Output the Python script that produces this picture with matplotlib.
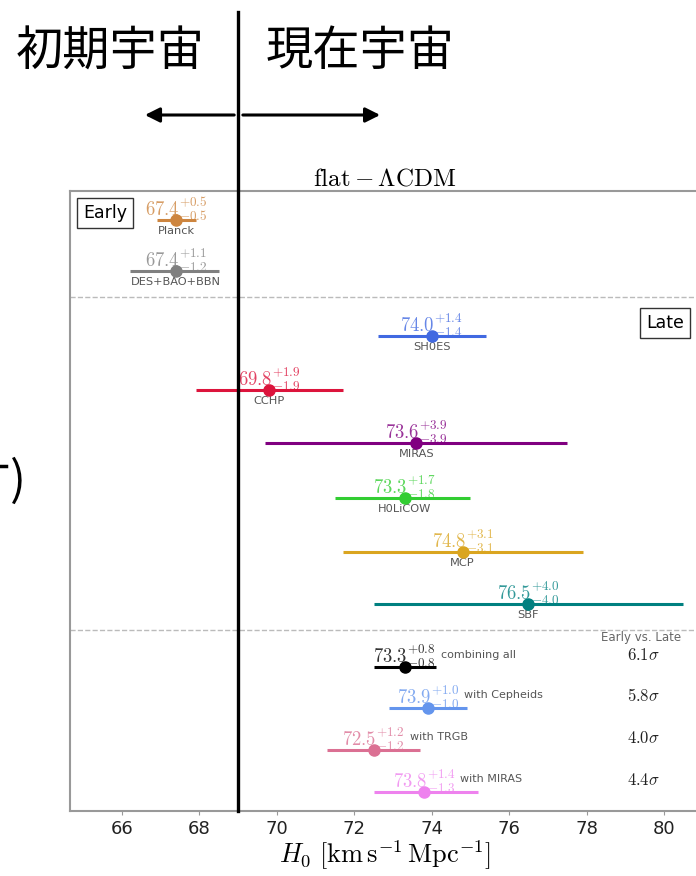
import numpy as np
import matplotlib
matplotlib.use("Agg")
import matplotlib.pyplot as plt

plt.rcParams["mathtext.fontset"] = "cm"
plt.rcParams["font.family"] = ["DejaVu Sans"]

# measurements (H0 in km/s/Mpc)
names = ["Planck", "DES+BAO+BBN", "SH0ES", "CCHP", "MIRAS", "H0LiCOW", "MCP", "SBF",
         "combining all", "with Cepheids", "with TRGB", "with MIRAS"]
h0 = [67.4, 67.4, 74.0, 69.8, 73.6, 73.3, 74.8, 76.5, 73.3, 73.9, 72.5, 73.8]
err_hi = [0.5, 1.1, 1.4, 1.9, 3.9, 1.7, 3.1, 4.0, 0.8, 1.0, 1.2, 1.4]
err_lo = [0.5, 1.2, 1.4, 1.9, 3.9, 1.8, 3.1, 4.0, 0.8, 1.0, 1.2, 1.3]
group = ["early"] * 2 + ["late"] * 6 + ["comb"] * 4
tension = ["6.1", "5.8", "4.0", "4.4"]
colors = ["peru", "gray", "royalblue", "crimson", "purple", "limegreen", "goldenrod", "teal",
          "black", "cornflowerblue", "palevioletred", "violet"]
xticks = [66, 68, 70, 72, 74, 76, 78, 80]
divide = 69.0

# layout: row heights (axis units, top = 0)
rows_y = [29, 80, 145, 199, 252, 307, 361, 413, 476, 517, 559, 601]
seps_y = [106, 439]

fig = plt.figure(figsize=(6.96, 8.76), dpi=100)
ax = fig.add_axes([70/696, 65/876, 630/696, 620/876])
ax.set_xlim(64.657, 80.93)
ax.set_ylim(620, 0)

for i, (n, v, hi, lo, c, g) in enumerate(zip(names, h0, err_hi, err_lo, colors, group)):
    y = rows_y[i]
    ax.errorbar(v, y, xerr=[[lo], [hi]], fmt="o", color=c, ms=8, elinewidth=2.2, capsize=0, zorder=3)
    lab = r"$\mathbf{%.1f}^{+%.1f}_{-%.1f}$" % (v, hi, lo) if c == "black" else r"$%.1f^{+%.1f}_{-%.1f}$" % (v, hi, lo)
    ax.annotate(lab, (v, y), xytext=(0, 3), textcoords="offset points", ha="center", va="baseline",
                color=c, fontsize=13.5, alpha=0.8)
    if g == "comb":
        ax.annotate(n, (v, y), xytext=(26, 9), textcoords="offset points", ha="left", va="center",
                    color="#555555", fontsize=8)
    else:
        ax.annotate(n, (v, y), xytext=(0, -4), textcoords="offset points", ha="center", va="top",
                    color="#555555", fontsize=8.2)

for s in seps_y:
    ax.axhline(s, color="#bbbbbb", ls="--", lw=1)

ax.text(0.907, 1 - 446/620, "Early vs. Late", transform=ax.transAxes, ha="center", va="center",
        color="#666666", fontsize=8.5)
for t, y in zip(tension, rows_y[8:]):
    ax.text(0.91, 1 - (y - 12)/620, r"$%s\sigma$" % t, transform=ax.transAxes, ha="center", va="center",
            color="#222222", fontsize=12)

box = dict(boxstyle="square,pad=0.35", fc="white", ec="#333333", lw=1)
ax.text(0.0556, 1 - 22/620, "Early", transform=ax.transAxes, ha="center", va="center", fontsize=12.5, bbox=box)
ax.text(0.944, 1 - 132/620, "Late", transform=ax.transAxes, ha="center", va="center", fontsize=12.5, bbox=box)

ax.set_title(r"$\mathrm{flat}-\Lambda\mathrm{CDM}$", fontsize=18, pad=3)
ax.set_xticks(xticks)
ax.set_yticks([])
ax.tick_params(axis="x", labelsize=13, length=3, color="#999999", labelcolor="#222222")
ax.set_xlabel(r"$H_0\ [\mathrm{km\,s^{-1}\,Mpc^{-1}}]$", fontsize=19, labelpad=0)
for sp in ax.spines.values():
    sp.set_color("#999999"); sp.set_linewidth(1.5)

# divider between early / late universe, running up into the header
ax.plot([divide, divide], [620, -179], color="black", lw=2.4, clip_on=False, zorder=5)
arr = dict(arrowstyle="-|>", color="black", lw=2.2, mutation_scale=22)
ax.annotate("", xy=(66.52, -76), xytext=(divide - 0.03, -76), arrowprops=arr, annotation_clip=False)
ax.annotate("", xy=(72.74, -76), xytext=(divide + 0.05, -76), arrowprops=arr, annotation_clip=False)

jp = ["Noto Sans CJK JP", "DejaVu Sans"]
fig.text(110/696, 1 - 52/876, "初期宇宙", ha="center", va="center", fontsize=34, family=jp)
fig.text(360/696, 1 - 52/876, "現在宇宙", ha="center", va="center", fontsize=34, family=jp)
# remnant of a cropped label at the left edge
fig.text(18/696, 1 - 482/876, ")", ha="center", va="center", fontsize=34, family=jp)
fig.add_artist(plt.Line2D([0, 6/696], [1 - 466/876, 1 - 466/876], color="black", lw=2.5))

fig.savefig("out.png", dpi=100)
